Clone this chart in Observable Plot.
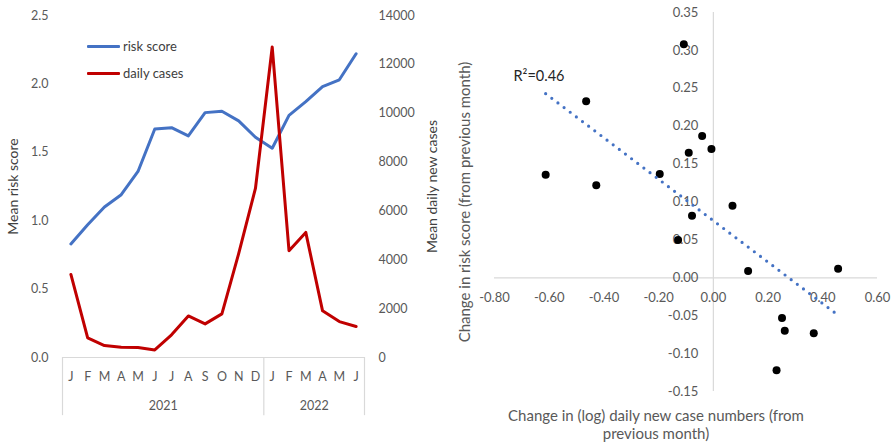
<!DOCTYPE html>
<html><head><meta charset="utf-8">
<script src="https://cdn.jsdelivr.net/npm/d3@7"></script>
<script src="https://cdn.jsdelivr.net/npm/@observablehq/plot@0.6"></script>
<style>
body{margin:0;background:#fff;}
#wrap{position:relative;width:895px;height:444px;display:flex;font-family:Lato,sans-serif;overflow:hidden;}
#legend{position:absolute;left:87px;top:32.5px;font-size:13px;color:#404040;}
.item{display:flex;align-items:center;height:27px;}
.sw{width:33px;height:3px;margin-right:3px;border-radius:1px;}
svg{overflow:visible;}
</style></head><body>
<div id="wrap"><div id="left"></div><div id="right"></div><div id="legend"></div></div>
<script>
// ---- Left chart data ----
const months = ["J","F","M","A","M","J","J","A","S","O","N","D","J","F","M","A","M","J"];
const years = ["2021","2021","2021","2021","2021","2021","2021","2021","2021","2021","2021","2021","2022","2022","2022","2022","2022","2022"];
const riskScore = [0.83,0.97,1.10,1.19,1.36,1.67,1.68,1.62,1.79,1.80,1.73,1.61,1.53,1.77,1.87,1.98,2.03,2.22];
const dailyCases = [3400,800,490,420,410,310,930,1700,1375,1785,4250,6920,12710,4370,5120,1910,1470,1270];
const riskTicks = [0,0.5,1.0,1.5,2.0,2.5];
const caseTicks = [0,2000,4000,6000,8000,10000,12000,14000];
const seriesNames = ["risk score","daily cases"];
const seriesColors = ["#4472C4","#C00000"];

// ---- Right chart data ----
const logCaseChange = [-0.108,-0.465,-0.613,-0.428,-0.196,-0.041,-0.090,-0.007,-0.078,-0.129,0.070,0.127,0.456,0.251,0.261,0.367,0.231];
const riskChange = [0.308,0.233,0.136,0.122,0.137,0.187,0.165,0.170,0.082,0.050,0.095,0.009,0.012,-0.053,-0.070,-0.073,-0.122];
const scatterXTicks = [-0.8,-0.6,-0.4,-0.2,0,0.2,0.4,0.6];
const scatterYTicks = [-0.15,-0.10,-0.05,0,0.05,0.10,0.15,0.20,0.25,0.30,0.35];
const r2Label = "R\u00B2=0.46";

const tickColor = "#595959", titleColor = "#404040", lineGray = "#d9d9d9";
const font = "Lato, sans-serif";
const riskMax = riskTicks[riskTicks.length-1], caseMax = caseTicks[caseTicks.length-1];
const c2r = v => v * riskMax / caseMax;
const idx = months.map((_, i) => i);
const groups = d3.groups(idx, i => years[i]).map(([y, is]) => ({year: y, mid: (is[0] + is[is.length-1]) / 2, start: is[0] - 0.5, end: is[is.length-1] + 0.5}));
const bounds = [...new Set(groups.flatMap(g => [g.start, g.end]))];

const left = Plot.plot({
  width: 450, height: 444, marginLeft: 62, marginRight: 86, marginTop: 15, marginBottom: 87,
  x: {type: "linear", domain: [-0.5, months.length - 0.5], axis: null},
  y: {domain: [0, riskMax], axis: null},
  style: {fontFamily: font, fontSize: "12px", background: "white"},
  marks: [
    Plot.ruleY([0], {stroke: lineGray, strokeWidth: 1.2}),
    Plot.ruleX(bounds, {y1: 0, y2: -0.425, stroke: lineGray, strokeWidth: 1.2}),
    Plot.axisY(riskTicks, {anchor: "left", tickFormat: d3.format(".1f"), tickSize: 0, tickPadding: 14, fill: tickColor, fontSize: 12.5, label: null}),
    Plot.axisY(caseTicks.map(c2r), {anchor: "right", tickFormat: v => String(Math.round(v * caseMax / riskMax)), tickSize: 0, tickPadding: 14, fill: tickColor, fontSize: 12.5, label: null}),
    Plot.text(idx, {x: i => i, text: i => months[i], frameAnchor: "bottom", dy: 23, fill: tickColor, fontSize: 12.5}),
    Plot.text(groups, {x: "mid", text: "year", frameAnchor: "bottom", dy: 52, fill: tickColor, fontSize: 12.5}),
    Plot.text(["Mean risk score"], {frameAnchor: "left", textAnchor: "middle", dx: -49, rotate: -90, fill: titleColor, fontSize: 14}),
    Plot.text(["Mean daily new cases"], {frameAnchor: "right", textAnchor: "middle", dx: 68, rotate: -90, fill: titleColor, fontSize: 14}),
    Plot.line(idx, {x: i => i, y: i => riskScore[i], stroke: seriesColors[0], strokeWidth: 3}),
    Plot.line(idx, {x: i => i, y: i => c2r(dailyCases[i]), stroke: seriesColors[1], strokeWidth: 3})
  ]
});
document.getElementById("left").appendChild(left);

const fmt2 = v => v.toFixed(2);
const pts = logCaseChange.map((x, i) => ({x, y: riskChange[i]}));
const right = Plot.plot({
  width: 445, height: 444, marginLeft: 44, marginRight: 18, marginTop: 12, marginBottom: 53,
  x: {domain: [scatterXTicks[0], scatterXTicks[scatterXTicks.length-1]], axis: null},
  y: {domain: [scatterYTicks[0], scatterYTicks[scatterYTicks.length-1]], axis: null},
  style: {fontFamily: font, fontSize: "12px", background: "white"},
  marks: [
    Plot.ruleY([0], {stroke: lineGray, strokeWidth: 1.2}),
    Plot.ruleX([0], {stroke: lineGray, strokeWidth: 1.2}),
    Plot.text(scatterXTicks, {x: d => d, y: 0, dy: 20, text: fmt2, fill: tickColor, fontSize: 13}),
    Plot.text(scatterYTicks, {x: 0, y: d => d, dx: -15, textAnchor: "end", text: fmt2, fill: tickColor, fontSize: 13}),
    Plot.text(["Change in risk score (from previous month)"], {frameAnchor: "left", textAnchor: "middle", dx: -29, rotate: -90, fill: tickColor, fontSize: 15}),
    Plot.text(["Change in (log) daily new case numbers (from\nprevious month)"], {frameAnchor: "bottom", dx: -30, dy: 17, lineAnchor: "top", lineHeight: 1.2, fill: tickColor, fontSize: 15}),
    Plot.dot(pts, {x: "x", y: "y", r: 4, fill: "black"}),
    Plot.linearRegressionY(pts, {x: "x", y: "y", ci: 0, stroke: seriesColors[0], strokeWidth: 3.2, strokeDasharray: "0 7.7", strokeLinecap: "round"}),
    Plot.text([r2Label], {frameAnchor: "top-left", dx: 19, dy: 58, textAnchor: "start", fill: "#262626", fontSize: 14.5})
  ]
});
document.getElementById("right").appendChild(right);

const lg = document.getElementById("legend");
seriesNames.forEach((n, i) => {
  const it = document.createElement("div"); it.className = "item";
  const sw = document.createElement("div"); sw.className = "sw"; sw.style.background = seriesColors[i];
  const t = document.createElement("span"); t.textContent = n;
  it.appendChild(sw); it.appendChild(t); lg.appendChild(it);
});
</script>
</body></html>
